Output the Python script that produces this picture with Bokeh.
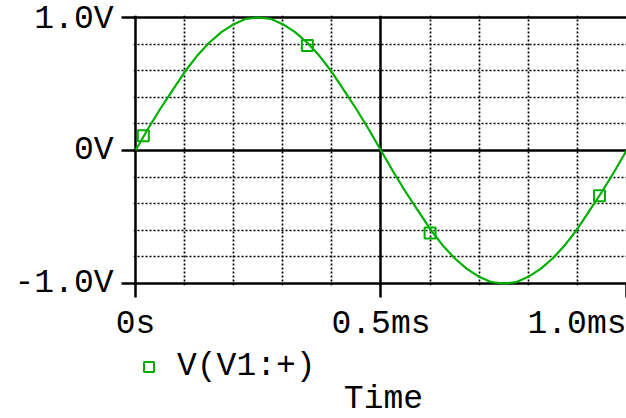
from bokeh.plotting import figure
from bokeh.layouts import column
from bokeh.models import Range1d, FixedTicker, Legend, LegendItem, Label
from bokeh.embed import file_html
from bokeh.resources import INLINE

# ---- data (time in ms, voltage in V) ----
time_ms = [0.000, 0.025, 0.050, 0.075, 0.100, 0.125, 0.150, 0.175, 0.200, 0.225,
           0.250, 0.275, 0.300, 0.325, 0.350, 0.375, 0.400, 0.425, 0.450, 0.475,
           0.500, 0.525, 0.550, 0.575, 0.600, 0.625, 0.650, 0.675, 0.700, 0.725,
           0.750, 0.775, 0.800, 0.825, 0.850, 0.875, 0.900, 0.925, 0.950, 0.975,
           1.000]
v_v1 = [0.00, 0.16, 0.31, 0.45, 0.59, 0.71, 0.81, 0.89, 0.95, 0.99,
        1.00, 0.99, 0.95, 0.89, 0.81, 0.71, 0.59, 0.45, 0.31, 0.16,
        0.00, -0.16, -0.31, -0.45, -0.59, -0.71, -0.81, -0.89, -0.95, -0.99,
        -1.00, -0.99, -0.95, -0.89, -0.81, -0.71, -0.59, -0.45, -0.31, -0.16,
        0.00]
marker_t = [0.016, 0.350, 0.600, 0.945]
marker_v = [0.11, 0.79, -0.62, -0.34]

x_major = [0, 0.5, 1]
x_minor = [0.1, 0.2, 0.3, 0.4, 0.6, 0.7, 0.8, 0.9]
x_labels = {0: "0s", 0.5: "0.5ms", 1: "1.0ms"}
y_major = [-1, 0, 1]
y_minor = [-0.8, -0.6, -0.4, -0.2, 0.2, 0.4, 0.6, 0.8]
y_labels = {1: "1.0V", 0: "0V", -1: "-1.0V"}
series_name = "V(V1:+)"
x_title = "Time"

GREEN = "#00B000"
FONT = "Liberation Mono"
FSIZE = "33px"

xr = Range1d(-0.00404, 1.0)
p = figure(width=626, height=345, output_backend="svg", toolbar_location=None,
           x_range=xr, y_range=Range1d(-1.015, 1.015),
           min_border_left=133, min_border_right=0, min_border_top=15,
           min_border_bottom=60)
p.outline_line_color = None
p.background_fill_color = "white"
p.border_fill_color = "white"

# grids
p.xgrid.ticker = FixedTicker(ticks=x_major, minor_ticks=x_minor)
p.ygrid.ticker = FixedTicker(ticks=y_major, minor_ticks=y_minor)
for g in (p.xgrid, p.ygrid):
    g.grid_line_color = "black"
    g.grid_line_width = 2.5
    g.minor_grid_line_color = "black"
    g.minor_grid_line_width = 1.7
    g.minor_grid_line_dash = "2 2"

# axes
xa = p.xaxis[0]
xa.ticker = FixedTicker(ticks=x_major)
xa.major_label_overrides = x_labels
ya = p.yaxis[0]
ya.ticker = FixedTicker(ticks=y_major)
ya.major_label_overrides = y_labels
for a in (xa, ya):
    a.axis_line_color = None
    a.major_tick_line_color = "black"
    a.major_tick_line_width = 2.5
    a.major_tick_out = 12
    a.major_tick_in = 2
    a.minor_tick_line_color = None
    a.major_label_text_font = FONT
    a.major_label_text_font_size = FSIZE
    a.major_label_text_color = "black"
    a.major_label_standoff = 8

# data
p.line(time_ms, v_v1, line_color=GREEN, line_width=2.2)
p.scatter(marker_t, marker_v, marker="square", size=11, fill_color=None,
          line_color=GREEN, line_width=2)

# lower strip (continues the volt scale below the plot): legend and x title
p2 = figure(width=626, height=73, output_backend="svg", toolbar_location=None,
            x_range=xr, y_range=Range1d(-2.015, -1.466), x_axis_type=None,
            y_axis_type=None, min_border_left=133, min_border_right=0,
            min_border_top=0, min_border_bottom=0)
p2.outline_line_color = None
p2.background_fill_color = "white"
p2.border_fill_color = "white"
p2.grid.visible = False

# same markers; they fall outside this strip's range, only the legend shows
leg_r = p2.scatter(marker_t, marker_v, marker="square", size=11,
                   fill_color=None, line_color=GREEN, line_width=2)
legend = Legend(items=[LegendItem(label=series_name, renderers=[leg_r])],
                location=(3, 33), padding=0, margin=0, spacing=0,
                glyph_width=25, glyph_height=25, label_standoff=16,
                label_text_font=FONT, label_text_font_size=FSIZE,
                label_text_color="black", border_line_color=None,
                background_fill_color=None)
p2.add_layout(legend)
p2.add_layout(Label(x=0.505, y=-1.870, text=x_title, text_align="center",
                    text_baseline="middle", text_font=FONT,
                    text_font_size=FSIZE, text_color="black"))

layout = column(p, p2, spacing=0)
open("out.html", "w").write(file_html(layout, INLINE))
